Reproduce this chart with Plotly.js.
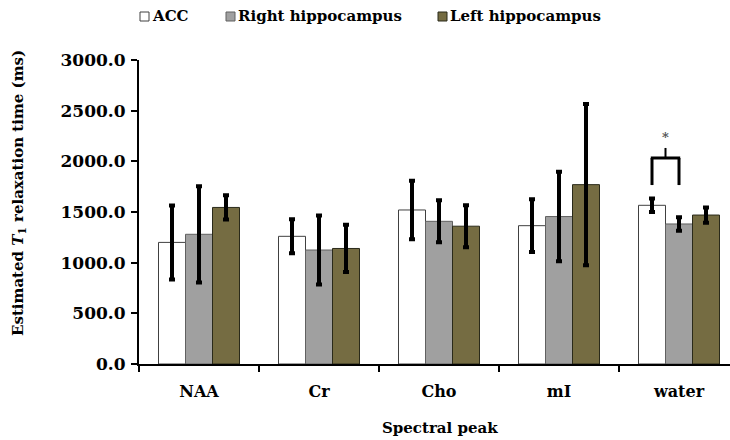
<!DOCTYPE html>
<html><head><meta charset="utf-8">
<script src="https://cdn.plot.ly/plotly-3.0.1.min.js"></script>
<style>html,body{margin:0;padding:0;background:#fff}#chart{width:730px;height:440px}</style>
</head><body><div id="chart"></div>
<script>
const categories = ["NAA", "Cr", "Cho", "mI", "water"];
const seriesNames = ["ACC", "Right hippocampus", "Left hippocampus"];
const accValues = [1200, 1260, 1520, 1365, 1566];
const accErrors = [365, 168, 288, 260, 67];
const rightValues = [1280, 1125, 1408, 1455, 1382];
const rightErrors = [475, 340, 207, 441, 67];
const leftValues = [1545, 1140, 1360, 1770, 1470];
const leftErrors = [120, 233, 207, 795, 75];
const yTicks = [0, 500, 1000, 1500, 2000, 2500, 3000];
// significance bracket (water: ACC vs Right hippocampus)
const bracketLow = 1766, bracketHigh = 2033, bracketStub = 2132, starY = 2240;

const fills = ["#FFFFFF", "#A0A0A0", "#756C42"];
const outlines = ["#404040", "#606060", "#2A2A1A"];
const FONT = "DejaVu Serif, serif";
const FS = 15;
const TFS = 17;

const vals = [accValues, rightValues, leftValues];
const errs = [accErrors, rightErrors, leftErrors];
const traces = vals.map((v, i) => ({
  type: "bar", name: seriesNames[i], x: categories, y: v,
  marker: {color: fills[i], line: {color: outlines[i], width: 1}},
  error_y: {type: "data", array: errs[i], visible: true, color: "#000", thickness: 4, width: 3},
  showlegend: false
}));

const L = 139, R = 730, T = 60, B = 364;
const px = x => (x - L) / (R - L);
const py = y => (B - y) / (B - T);

const barW = 0.225;
const wIdx = categories.indexOf("water");
const xa = wIdx - barW, xb = wIdx, xm = (xa + xb) / 2;

const shapes = [
  {type: "line", xref: "x", yref: "y", x0: xa, x1: xa, y0: bracketLow, y1: bracketHigh, line: {color: "#000", width: 3}},
  {type: "line", xref: "x", yref: "y", x0: xb, x1: xb, y0: bracketLow, y1: bracketHigh, line: {color: "#000", width: 3}},
  {type: "line", xref: "x", yref: "y", x0: xa - 0.01, x1: xb + 0.01, y0: bracketHigh, y1: bracketHigh, line: {color: "#000", width: 3}},
  {type: "line", xref: "x", yref: "y", x0: xm, x1: xm, y0: bracketHigh, y1: bracketStub, line: {color: "#000", width: 2}}
];
const annotations = [
  {xref: "x", yref: "y", x: xm, y: starY, text: "<b>*</b>", showarrow: false, yanchor: "middle", font: {family: FONT, size: 13, color: "#555"}},
  {xref: "paper", yref: "paper", x: px(440), y: py(428), xanchor: "center", yanchor: "middle", text: "<b>Spectral peak</b>", showarrow: false, font: {family: FONT, size: FS, color: "#000"}},
  {xref: "paper", yref: "paper", x: px(18), y: py(193), xanchor: "center", yanchor: "middle", textangle: -90,
    text: "<b>Estimated <i>T</i><sub>1</sub> relaxation time (ms)</b>", showarrow: false, font: {family: FONT, size: FS, color: "#000"}}
];
const legX = [140, 226, 438];
seriesNames.forEach((n, i) => {
  shapes.push({type: "rect", xref: "paper", yref: "paper", x0: px(legX[i]), x1: px(legX[i] + 9), y0: py(21), y1: py(12),
    fillcolor: fills[i], line: {color: outlines[i], width: 1}});
  annotations.push({xref: "paper", yref: "paper", x: px(legX[i] + 10), y: py(16.5), xanchor: "left", yanchor: "middle",
    text: "<b>" + n + "</b>", showarrow: false, font: {family: FONT, size: FS, color: "#000"}});
});

const layout = {
  width: 730, height: 440,
  margin: {l: L, r: 730 - R, t: T, b: 440 - B},
  paper_bgcolor: "#fff", plot_bgcolor: "#fff",
  barmode: "group", bargap: 0.325, bargroupgap: 0,
  font: {family: FONT, size: FS, color: "#000"},
  xaxis: {
    type: "category", range: [-0.5, 4.425], showline: true, linecolor: "#000", linewidth: 2,
    ticks: "outside", tickson: "boundaries", ticklen: 6, tickwidth: 2, tickcolor: "#000",
    tickfont: {family: FONT, size: 16, color: "#000"}, showgrid: false, zeroline: false,
    ticklabelstandoff: 12,
    tickprefix: "<b>", ticksuffix: "</b>"
  },
  yaxis: {
    range: [0, 3000], tickvals: yTicks, ticktext: yTicks.map(v => "<b>" + v.toFixed(1) + "</b>"),
    showline: true, linecolor: "#000", linewidth: 2, ticks: "outside", ticklen: 6, tickwidth: 2, tickcolor: "#000",
    showgrid: false, zeroline: false, tickfont: {family: FONT, size: TFS, color: "#000"}, ticklabelstandoff: 2
  },
  shapes: shapes, annotations: annotations, showlegend: false
};
Plotly.newPlot("chart", traces, layout, {staticPlot: true});
</script></body></html>
